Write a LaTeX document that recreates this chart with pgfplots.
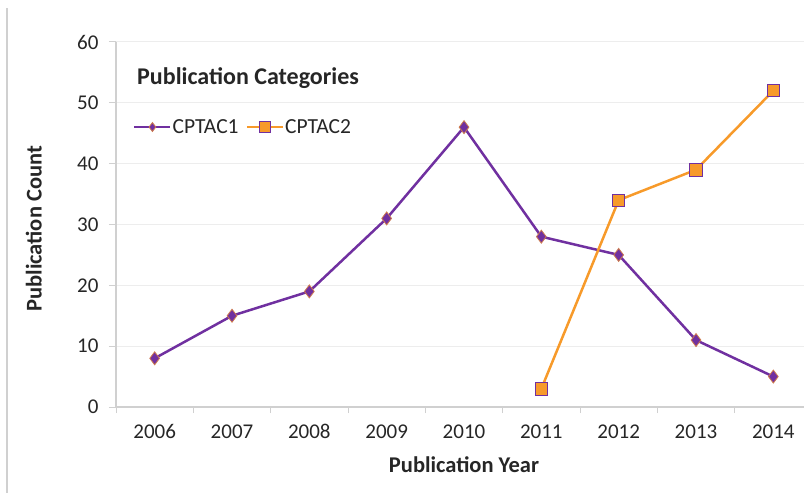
\documentclass[border=0pt]{standalone}
\usepackage{pgfplots}
\pgfplotsset{compat=1.18}
\usepackage{fontspec}
\setmainfont{Carlito}
\definecolor{cpurple}{HTML}{7030A0}
\definecolor{corange}{HTML}{F79A2A}
\definecolor{axgray}{HTML}{D0D0D0}
\definecolor{gridgray}{HTML}{EDEDED}
\definecolor{txt}{HTML}{262626}
\begin{document}
\begin{tikzpicture}
\useasboundingbox (0,0) rectangle (804bp,493bp);
\draw[color=axgray, line width=1.5bp] (7bp,0bp) -- (7bp,485bp);
\begin{axis}[
  at={(116bp,86bp)}, anchor=south west,
  scale only axis, width=696bp, height=365bp,
  xmin=-0.5, xmax=8.5, ymin=0, ymax=60,
  xtick={0,...,8},
  xticklabels={2006,2007,2008,2009,2010,2011,2012,2013,2014},
  minor xtick={-0.5,0.5,...,8.5},
  ytick={0,10,...,60},
  axis x line*=bottom, axis y line*=left,
  axis line style={color=axgray, line width=1.2bp},
  tick align=outside,
  major tick length=7bp, minor tick length=6bp,
  major x tick style={draw=none},
  minor x tick style={color=axgray, line width=1bp},
  ytick style={color=axgray, line width=1bp},
  ymajorgrids, grid style={color=gridgray, line width=1bp},
  /pgf/number format/assume math mode=true,
  tick label style={font=\fontsize{21bp}{25bp}\selectfont, color=txt},
  xticklabel style={yshift=-7bp},
  yticklabel style={xshift=-7bp},
  xlabel={\bfseries Publication Year},
  ylabel={\bfseries Publication Count},
  label style={font=\fontsize{22.5bp}{26bp}\selectfont, color=txt},
  xlabel style={at={(axis description cs:0.5,-0.159)}, anchor=center},
  ylabel style={at={(axis description cs:-0.118,0.488)}, anchor=center},
  legend style={at={(axis description cs:0.0244,0.767)}, anchor=west,
    draw=none, fill=none, inner xsep=0pt, inner ysep=0pt,
    font=\fontsize{21.5bp}{25bp}\selectfont, text=txt,
    nodes={inner sep=1bp},
    legend columns=2, column sep=0bp,
    /tikz/every even column/.append style={column sep=6bp}},
  legend image code/.code={\draw[mark repeat=2,mark phase=2] plot coordinates {(0bp,0bp)(18bp,0bp)(36bp,0bp)};},
  clip=false,
]
\addplot[color=cpurple, line width=2.5bp, mark=diamond*, mark size=6.5bp,
  mark options={fill=cpurple, draw=corange!70!cpurple, line width=0.8bp},
  legend image post style={mark size=4.5bp}]
  coordinates {(0,8) (1,15) (2,19) (3,31) (4,46) (5,28) (6,25) (7,11) (8,5)};
\addlegendentry{CPTAC1}
\addplot[color=corange, line width=2.5bp, mark=square*, mark size=6.2bp,
  mark options={fill=corange, draw=cpurple, line width=0.8bp},
  legend image post style={mark size=5.2bp}]
  coordinates {(5,3) (6,34) (7,39) (8,52)};
\addlegendentry{CPTAC2}
\node[anchor=west, inner sep=0pt, font=\fontsize{24bp}{28bp}\selectfont\bfseries, text=txt]
  at (axis description cs:0.0302,0.901) {Publication Categories};
\end{axis}
\end{tikzpicture}
\end{document}
